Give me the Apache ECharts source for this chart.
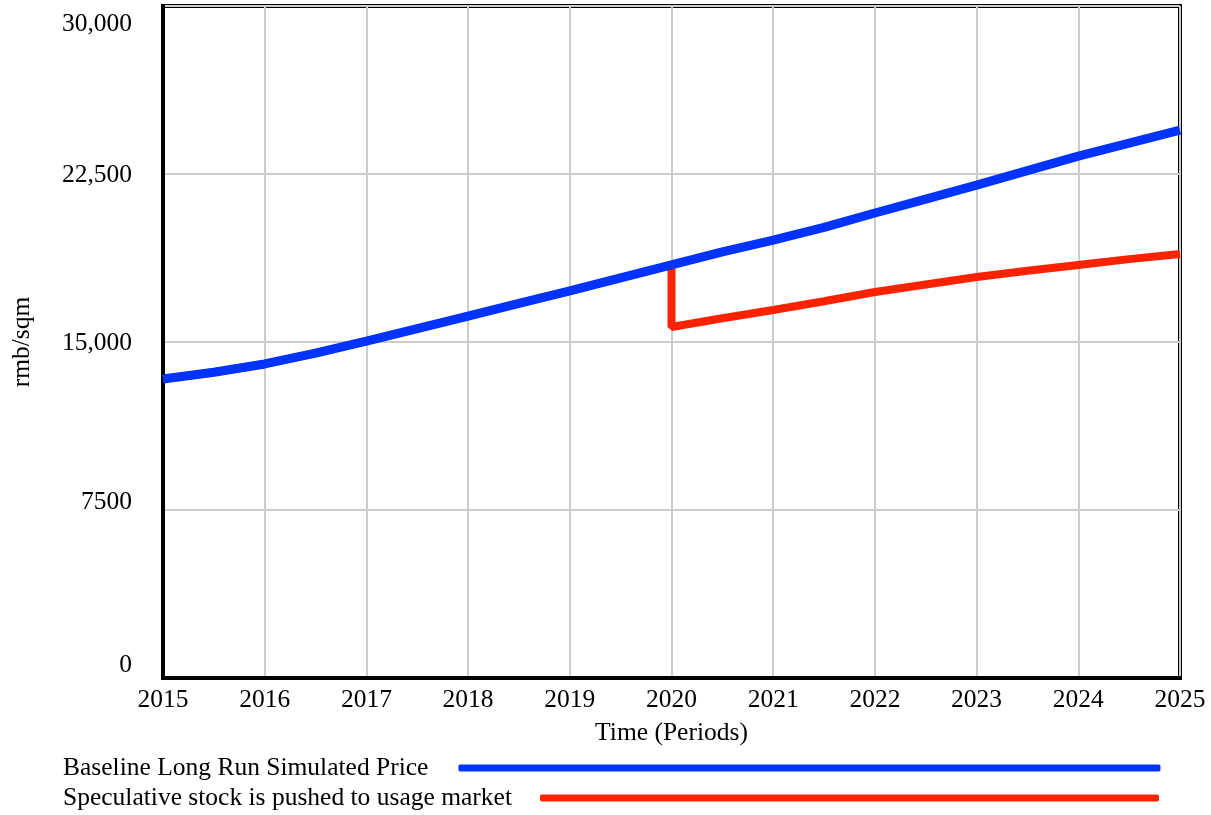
<!DOCTYPE html>
<html>
<head>
<meta charset="utf-8">
<script src="https://cdn.jsdelivr.net/npm/echarts@6/dist/echarts.min.js"></script>
<style>
html,body{margin:0;padding:0;background:#fff;}
#chart{width:1211px;height:815px;}
</style>
</head>
<body>
<div id="chart"></div>
<script>
// ---- data ----
const baselineName = 'Baseline Long Run Simulated Price';
const speculativeName = 'Speculative stock is pushed to usage market';

const baselineTimes = [2015, 2015.5, 2016, 2016.5, 2017, 2017.5, 2018, 2018.5, 2019, 2019.5, 2020,
                       2020.5, 2021, 2021.5, 2022, 2022.5, 2023, 2023.5, 2024, 2024.5, 2025];
const baselineValues = [13350, 13650, 14020, 14500, 15040, 15600, 16160, 16720, 17280, 17860, 18440,
                        19020, 19550, 20120, 20760, 21380, 22000, 22650, 23300, 23880, 24460];

const speculativeTimes = [2015, 2015.5, 2016, 2016.5, 2017, 2017.5, 2018, 2018.5, 2019, 2019.5, 2020,
                          2020, 2020.5, 2021, 2021.5, 2022, 2022.5, 2023, 2023.5, 2024, 2024.5, 2025];
const speculativeValues = [13350, 13650, 14020, 14500, 15040, 15600, 16160, 16720, 17280, 17860, 18440,
                           15670, 16060, 16430, 16820, 17230, 17570, 17900, 18180, 18440, 18700, 18930];

const yTickValues = [0, 7500, 15000, 22500, 30000];
const yTickLabels = ['0', '7500', '15,000', '22,500', '30,000'];
const xAxisTitle = 'Time (Periods)';
const yAxisTitle = 'rmb/sqm';

// ---- build ----
const FONT = 'Liberation Serif';
const FS = 25.5;
function pairs(xs, ys) { return xs.map((x, i) => [x, ys[i]]); }

// per-label vertical shift (px, + = down) to mimic reference placement
const yShift = { 0: -13, 7500: -8, 15000: 1, 22500: 1, 30000: 18 };
const yRich = {};
yTickValues.forEach((v, i) => {
  const d = yShift[v];
  yRich['t' + i] = {
    fontFamily: FONT, fontSize: FS, color: '#000',
    padding: d >= 0 ? [2 * d, 0, 0, 0] : [0, 0, -2 * d, 0]
  };
});

const chart = echarts.init(document.getElementById('chart'), null, { renderer: 'canvas' });
chart.setOption({
  animation: false,
  backgroundColor: '#fff',
  textStyle: { fontFamily: FONT },
  grid: {
    left: 163, right: 31, top: 6, bottom: 137,
    show: true, borderColor: '#000', borderWidth: 4, backgroundColor: 'transparent'
  },
  legend: [
    {
      data: [baselineName], left: 63, top: 755, padding: 0, align: 'right',
      icon: 'roundRect', itemWidth: 702, itemHeight: 7,
      textStyle: { fontFamily: FONT, fontSize: FS, color: '#000', padding: [0, 25, 0, 0] },
      selectedMode: false
    },
    {
      data: [speculativeName], left: 63, top: 785, padding: 0, align: 'right',
      icon: 'roundRect', itemWidth: 619, itemHeight: 7,
      textStyle: { fontFamily: FONT, fontSize: FS, color: '#000', padding: [0, 23, 0, 0] },
      selectedMode: false
    }
  ],
  xAxis: {
    type: 'value', min: 2015, max: 2025, interval: 1,
    name: xAxisTitle, nameLocation: 'middle', nameGap: 42,
    nameTextStyle: { fontFamily: FONT, fontSize: FS, color: '#000' },
    axisLine: { show: true, lineStyle: { color: '#000', width: 4 } },
    axisTick: { show: false },
    axisLabel: { fontFamily: FONT, fontSize: FS, color: '#000', margin: 9, formatter: v => String(v) },
    splitLine: { show: true, lineStyle: { color: '#cccccc', width: 2 } }
  },
  yAxis: {
    type: 'value', min: 0, max: 30000, interval: 7500,
    name: yAxisTitle, nameLocation: 'middle', nameGap: 128, nameRotate: 90,
    nameTextStyle: { fontFamily: FONT, fontSize: FS, color: '#000' },
    axisLine: { show: true, lineStyle: { color: '#000', width: 4 } },
    axisTick: { show: false },
    axisLabel: {
      margin: 31, rich: yRich,
      formatter: v => { const i = yTickValues.indexOf(v); return '{t' + i + '|' + yTickLabels[i] + '}'; }
    },
    splitLine: { show: true, lineStyle: { color: '#cccccc', width: 2 } }
  },
  series: [
    {
      name: speculativeName, type: 'line', data: pairs(speculativeTimes, speculativeValues),
      showSymbol: false, symbol: 'none', color: '#ff2200',
      lineStyle: { color: '#ff2200', width: 8 }, z: 2
    },
    {
      name: baselineName, type: 'line', data: pairs(baselineTimes, baselineValues),
      showSymbol: false, symbol: 'none', color: '#0033ff',
      lineStyle: { color: '#0033ff', width: 9 }, z: 3
    }
  ]
});
</script>
</body>
</html>
